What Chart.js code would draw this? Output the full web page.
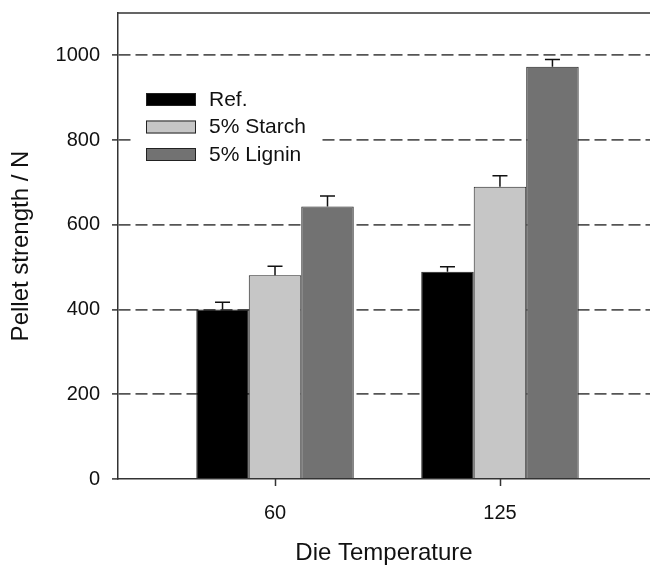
<!DOCTYPE html>
<html>
<head>
<meta charset="utf-8">
<script src="https://cdn.jsdelivr.net/npm/chart.js@4"></script>
<style>
    html, body { margin: 0; padding: 0; background: #fff; overflow: hidden; }
    #wrap { width: 650px; height: 565px; }
</style>
</head>
<body>
<div id="wrap"><canvas id="pelletChart" width="650" height="565"></canvas></div>
<script>
// die temperatures and measured pellet strength (N)
const temperatures = ['60', '125'];
const seriesNames = ['Ref.', '5% Starch', '5% Lignin'];
const refValues = [400, 489];
const starchValues = [481, 690];
const ligninValues = [643, 973];
const refErrors = [17, 12];
const starchErrors = [21, 26];
const ligninErrors = [25, 17];
const yTicks = [0, 200, 400, 600, 800, 1000];

const FONT = "'Liberation Sans', Arial, sans-serif";

function toPoints(values) {
    return values.map((v, i) => ({ x: i + 1, y: v }));
}

// upper error bars with a small cap
const errorBars = {
    id: 'errorBars',
    afterDatasetsDraw(chart) {
        const ctx = chart.ctx;
        const yScale = chart.scales.y;
        ctx.save();
        ctx.strokeStyle = '#111';
        ctx.lineWidth = 1.5;
        chart.data.datasets.forEach((ds, i) => {
            chart.getDatasetMeta(i).data.forEach((bar, j) => {
                const top = yScale.getPixelForValue(ds.data[j].y + ds.errors[j]);
                ctx.beginPath();
                ctx.moveTo(bar.x, bar.y);
                ctx.lineTo(bar.x, top);
                ctx.moveTo(bar.x - 7.5, top);
                ctx.lineTo(bar.x + 7.5, top);
                ctx.stroke();
            });
        });
        ctx.restore();
    }
};

// legend box in the upper left of the plot, covering the grid lines
const insetLegend = {
    id: 'insetLegend',
    beforeDatasetsDraw(chart) {
        const ctx = chart.ctx;
        const left = chart.chartArea.left;
        ctx.save();
        ctx.fillStyle = '#fff';
        ctx.fillRect(left + 13, 78, 191, 90);
        ctx.font = '21px ' + FONT;
        ctx.textBaseline = 'middle';
        chart.data.datasets.forEach((ds, i) => {
            const y = 93 + i * 27.5;
            ctx.fillStyle = ds.backgroundColor;
            ctx.fillRect(left + 28, y, 50, 13);
            ctx.strokeStyle = '#222';
            ctx.lineWidth = 1;
            ctx.strokeRect(left + 28.5, y + 0.5, 49, 12);
            ctx.fillStyle = '#111';
            ctx.fillText(ds.label, left + 91, y + 7);
        });
        ctx.restore();
    }
};

// top frame line and the tick marks under each temperature
const frame = {
    id: 'frame',
    afterDraw(chart) {
        const a = chart.chartArea;
        const ctx = chart.ctx;
        ctx.save();
        ctx.strokeStyle = '#333';
        ctx.lineWidth = 1.5;
        ctx.beginPath();
        ctx.moveTo(a.left, a.top);
        ctx.lineTo(a.right, a.top);
        chart.scales.x.ticks.forEach(t => {
            const x = Math.round(chart.scales.x.getPixelForValue(t.value)) + 0.5;
            ctx.moveTo(x, a.bottom);
            ctx.lineTo(x, a.bottom + 7);
        });
        ctx.stroke();
        ctx.restore();
    }
};

const ctx = document.getElementById('pelletChart').getContext('2d');
new Chart(ctx, {
    type: 'bar',
    data: {
        datasets: [
            { label: seriesNames[0], data: toPoints(refValues), errors: refErrors, backgroundColor: '#000000' },
            { label: seriesNames[1], data: toPoints(starchValues), errors: starchErrors, backgroundColor: '#c6c6c6' },
            { label: seriesNames[2], data: toPoints(ligninValues), errors: ligninErrors, backgroundColor: '#727272' }
        ]
    },
    options: {
        responsive: false,
        animation: false,
        layout: { padding: { top: 13, right: 0, left: 0, bottom: 0 } },
        datasets: {
            bar: {
                borderColor: '#222',
                borderWidth: 1,
                barPercentage: 1,
                categoryPercentage: 0.7
            }
        },
        plugins: {
            legend: { display: false },
            tooltip: { enabled: false }
        },
        scales: {
            x: {
                type: 'linear',
                offset: false,
                min: 0.302,
                max: 2.667,
                afterBuildTicks: scale => {
                    scale.ticks = temperatures.map((t, i) => ({ value: i + 1 }));
                },
                afterFit: scale => {
                    scale.height = 86;
                    scale.paddingLeft = 0;
                    scale.paddingRight = 0;
                },
                ticks: {
                    color: '#111',
                    font: { family: FONT, size: 20 },
                    padding: 15,
                    maxRotation: 0,
                    callback: (value, index) => temperatures[index]
                },
                grid: {
                    offset: false,
                    drawOnChartArea: false,
                    drawTicks: true,
                    tickLength: 7,
                    tickColor: 'rgba(0,0,0,0)'
                },
                border: { color: '#333', width: 1.5 },
                title: {
                    display: true,
                    text: 'Die Temperature',
                    color: '#111',
                    font: { family: FONT, size: 24, lineHeight: 1 },
                    padding: { top: 0, bottom: 0 }
                }
            },
            y: {
                min: 0,
                max: 1100,
                afterBuildTicks: scale => {
                    scale.ticks = yTicks.map(v => ({ value: v }));
                },
                afterFit: scale => {
                    scale.width = 118;
                    scale.paddingTop = 0;
                    scale.paddingBottom = 0;
                },
                ticks: {
                    color: '#111',
                    font: { family: FONT, size: 20 },
                    padding: 12,
                    callback: value => String(value)
                },
                grid: {
                    color: ctx => ctx.tick && ctx.tick.value === 0 ? 'rgba(0,0,0,0)' : '#555',
                    lineWidth: 1.8,
                    tickLength: 6,
                    tickColor: '#333',
                    tickWidth: 1.5
                },
                border: { color: '#333', width: 1.5, dash: [12, 5] },
                title: {
                    display: true,
                    text: 'Pellet strength / N',
                    color: '#111',
                    font: { family: FONT, size: 24, lineHeight: 1 },
                    padding: { top: 9, bottom: 0 }
                }
            }
        }
    },
    plugins: [errorBars, insetLegend, frame]
});
</script>
</body>
</html>
